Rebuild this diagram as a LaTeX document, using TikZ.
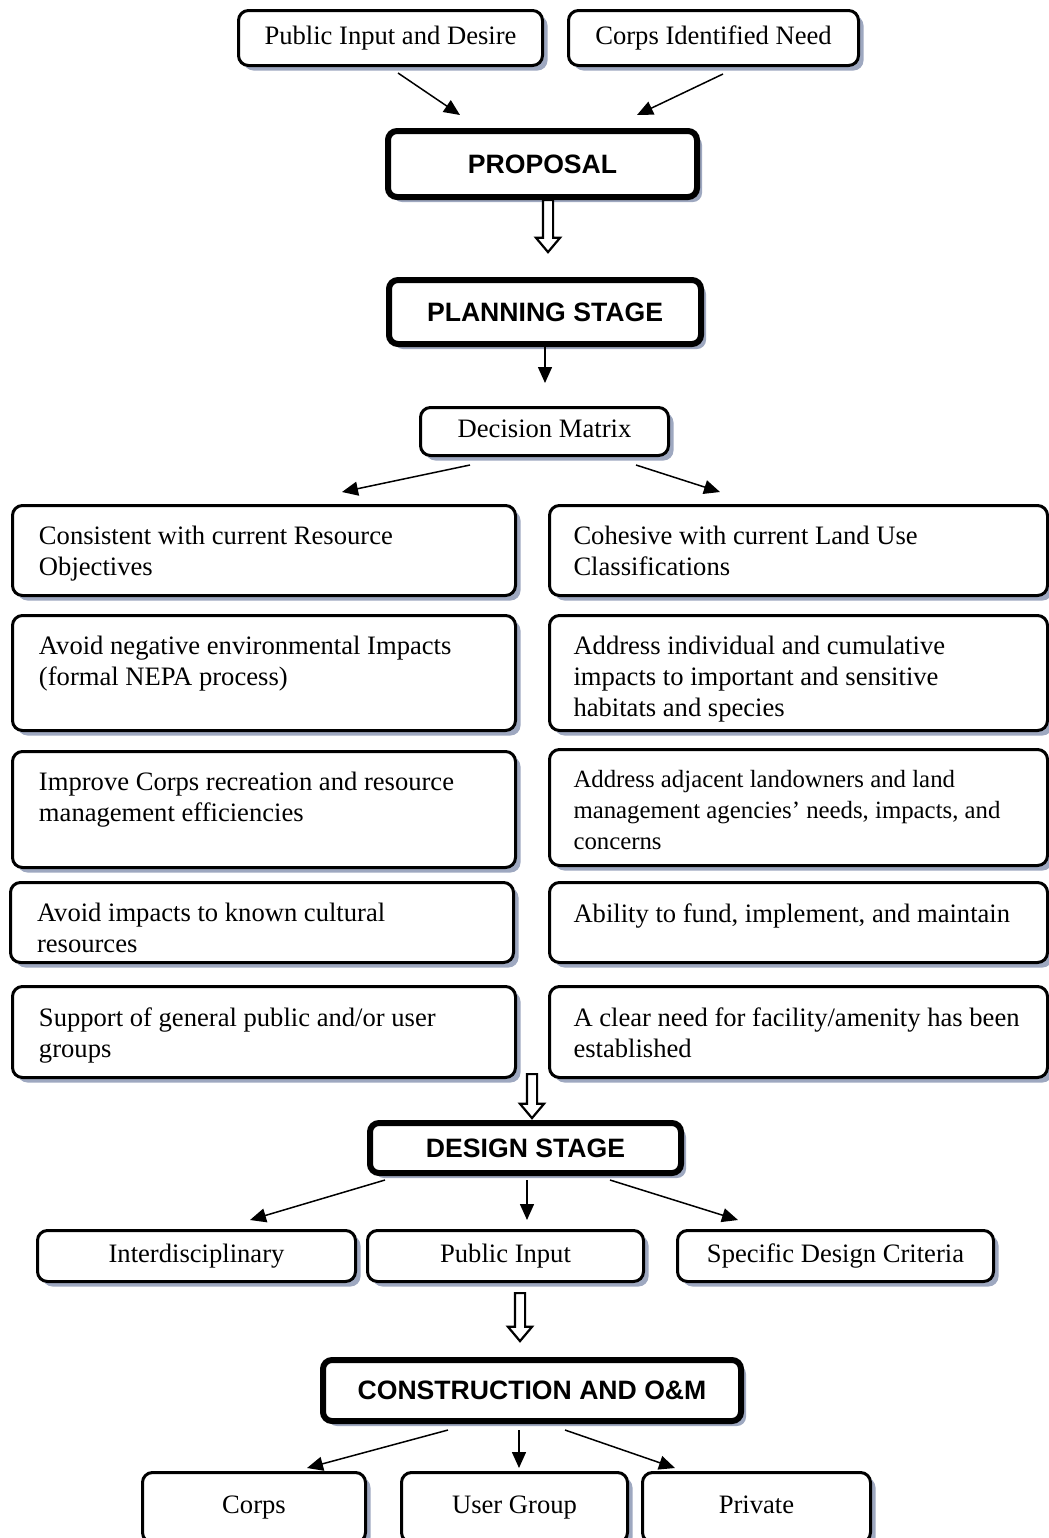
\documentclass[tikz,border=0pt]{standalone}
\usepackage{fontspec}
\setmainfont{Liberation Serif}
\newfontfamily\headfont{Liberation Sans}
\usetikzlibrary{shapes,arrows.meta,positioning,shadows}

\definecolor{shadowgray}{RGB}{158,168,192}
\newcommand{\cellbox}[2]{\parbox[t][#1][t]{225pt}{\raggedright #2}}

\begin{document}
\begin{tikzpicture}[
    x=0.5pt, y=-0.5pt,
    box/.style={draw, fill=white, line width=1.5pt, rounded corners=5pt, inner sep=0pt,
        anchor=north west,
        drop shadow={shadow xshift=2.5pt, shadow yshift=-2.5pt, fill=shadowgray, opacity=1}},
    stagebox/.style={box, line width=3pt, rounded corners=4.5pt,
        font=\headfont\bfseries\fontsize{13.3}{15.5}\selectfont},
    itembox/.style={box, text height=9pt, text depth=3pt, font=\fontsize{13.3}{15.5}\selectfont},
    critbox/.style={box, inner xsep=12pt, inner ysep=10.5pt, font=\fontsize{13.3}{15.5}\selectfont},
    flow/.style={-{Triangle[length=8pt,width=7pt]}, line width=0.75pt},
    hollow/.style={single arrow, draw, fill=white, line width=1.1pt, inner sep=2pt,
        single arrow head extend=3.5pt, single arrow tip angle=80,
        shape border rotate=270, anchor=tail}
]
\useasboundingbox (0,0) rectangle (1049,1538);

% sources and proposal
\node[itembox, minimum width=152pt, minimum height=27.5pt] (public) at (237,9) {Public Input and Desire};
\node[itembox, minimum width=145pt, minimum height=27.5pt] (need) at (567,9) {Corps Identified Need};
\node[stagebox, minimum width=154.5pt, minimum height=33pt] (proposal) at (385,128) {PROPOSAL};

\coordinate (s1) at (398,73);
\coordinate (t1) at (460,115);
\coordinate (s2) at (723,74);
\coordinate (t2) at (637,115);
\draw[flow] (s1) -- (t1);
\draw[flow] (s2) -- (t2);

% planning
\node[hollow, minimum height=26pt] (h1) at (548,199) {};
\node[stagebox, minimum width=156pt, minimum height=32pt] (planning) at (386,277) {PLANNING STAGE};
\node[itembox, minimum width=124pt, minimum height=24pt] (matrix) at (419,406) {Decision Matrix};
\coordinate (t3) at (planning.south |- 0,383);
\draw[flow] (planning.south) -- (t3);

\coordinate (s4) at (470,465);
\coordinate (t4) at (342,492);
\coordinate (s5) at (636,465);
\coordinate (t5) at (720,492);
\draw[flow] (s4) -- (t4);
\draw[flow] (s5) -- (t5);

% decision criteria, left column
\node[critbox, minimum width=251.5pt] (l1) at (11,504) {\cellbox{24pt}{Consistent with current Resource\\Objectives}};
\node[critbox, minimum width=251.5pt] (l2) at (11,614) {\cellbox{36.5pt}{Avoid negative environmental Impacts\\(formal NEPA process)}};
\node[critbox, minimum width=251.5pt] (l3) at (11,750) {\cellbox{37pt}{Improve Corps recreation and resource\\management efficiencies}};
\node[critbox, minimum width=251.5pt] (l4) at (9,881) {\cellbox{19pt}{Avoid impacts to known cultural\\resources}};
\node[critbox, minimum width=251.5pt] (l5) at (11,985) {\cellbox{24.5pt}{Support of general public and/or user\\groups}};

% decision criteria, right column
\node[critbox, minimum width=249pt] (r1) at (548,504) {\cellbox{24pt}{Cohesive with current Land Use\\Classifications}};
\node[critbox, minimum width=249pt] (r2) at (548,614) {\cellbox{36.5pt}{Address individual and cumulative\\impacts to important and sensitive\\habitats and species}};
\node[critbox, minimum width=249pt, font=\fontsize{12.4}{15.5}\selectfont] (r3) at (548,748) {\cellbox{37pt}{Address adjacent landowners and land\\management agencies’ needs, impacts, and\\concerns}};
\node[critbox, minimum width=249pt] (r4) at (548,881) {\cellbox{19pt}{Ability to fund, implement, and maintain}};
\node[critbox, minimum width=249pt] (r5) at (548,985) {\cellbox{24.5pt}{A clear need for facility/amenity has been\\established}};

% design
\node[hollow, minimum height=22pt] (h2) at (532,1073) {};
\node[stagebox, minimum width=155.5pt, minimum height=25pt] (design) at (367,1120) {DESIGN STAGE};
\node[itembox, minimum width=159pt, minimum height=25.5pt] (inter) at (36,1229) {Interdisciplinary};
\node[itembox, minimum width=138pt, minimum height=25.5pt] (pinput) at (366,1229) {Public Input};
\node[itembox, minimum width=158pt, minimum height=25.5pt] (criteria) at (676,1229) {Specific Design Criteria};

\coordinate (s6) at (385,1180);
\coordinate (t6) at (250,1220);
\coordinate (s7) at (527,1180);
\coordinate (t7) at (527,1220);
\coordinate (s8) at (610,1180);
\coordinate (t8) at (738,1220);
\draw[flow] (s6) -- (t6);
\draw[flow] (s7) -- (t7);
\draw[flow] (s8) -- (t8);

% construction
\node[hollow, minimum height=24pt] (h3) at (520,1292) {};
\node[stagebox, minimum width=209pt, minimum height=30.5pt] (build) at (320,1357) {CONSTRUCTION AND O\&M};
\node[itembox, minimum width=111.5pt, minimum height=35pt] (corps) at (141,1471) {Corps};
\node[itembox, minimum width=113pt, minimum height=35pt] (users) at (400,1471) {User Group};
\node[itembox, minimum width=114pt, minimum height=35pt] (private) at (641,1471) {Private};

\coordinate (s9) at (448,1430);
\coordinate (t9) at (307,1468);
\coordinate (s10) at (519,1430);
\coordinate (t10) at (519,1468);
\coordinate (s11) at (565,1430);
\coordinate (t11) at (675,1468);
\draw[flow] (s9) -- (t9);
\draw[flow] (s10) -- (t10);
\draw[flow] (s11) -- (t11);
\end{tikzpicture}
\end{document}
